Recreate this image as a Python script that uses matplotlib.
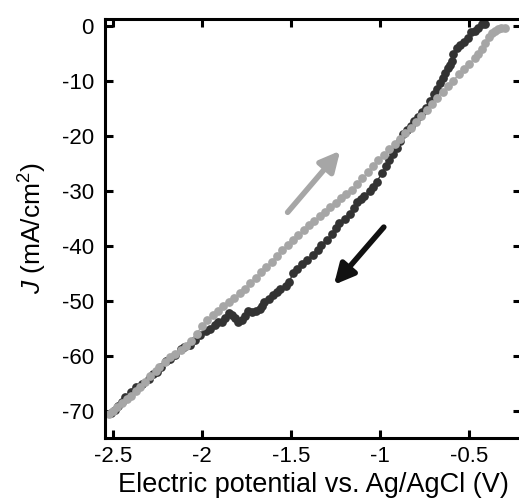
import numpy as np
import matplotlib
matplotlib.use('Agg')
import matplotlib.pyplot as plt

plt.rcParams['font.family'] = ['Liberation Sans', 'DejaVu Sans']
plt.rcParams['mathtext.fontset'] = 'custom'
plt.rcParams['mathtext.rm'] = 'Liberation Sans'
plt.rcParams['mathtext.it'] = 'Liberation Sans:italic'
plt.rcParams['axes.unicode_minus'] = False

# forward scan (grey)
fwd_v = [-2.52, -2.50, -2.48, -2.45, -2.42, -2.40, -2.37, -2.35, -2.32, -2.29,
         -2.26, -2.24, -2.21, -2.18, -2.15, -2.12, -2.09, -2.06, -2.03, -2.00,
         -1.97, -1.94, -1.91, -1.88, -1.85, -1.82, -1.79, -1.76, -1.73, -1.70,
         -1.67, -1.64, -1.61, -1.58, -1.55, -1.52, -1.49, -1.46, -1.43, -1.40,
         -1.37, -1.34, -1.31, -1.28, -1.25, -1.22, -1.19, -1.16, -1.13, -1.10,
         -1.07, -1.04, -1.01, -0.98, -0.95, -0.92, -0.89, -0.86, -0.83, -0.80,
         -0.77, -0.74, -0.71, -0.68, -0.65, -0.62, -0.59, -0.56, -0.53, -0.50,
         -0.47, -0.45, -0.43, -0.41, -0.39, -0.37, -0.355, -0.34, -0.32, -0.30]
fwd_j = [-70.6, -70.0, -69.4, -68.6, -67.9, -67.3, -66.4, -65.8, -64.8, -63.7,
         -62.8, -62.0, -61.2, -60.3, -59.7, -58.9, -58.2, -57.3, -56.0, -54.6,
         -53.6, -52.6, -51.8, -51.0, -50.2, -49.5, -48.6, -47.8, -46.8, -45.8,
         -44.8, -43.9, -42.9, -41.8, -40.8, -39.8, -38.9, -38.0, -37.2, -36.3,
         -35.4, -34.6, -33.8, -33.0, -32.2, -31.3, -30.6, -29.8, -28.8, -27.7,
         -26.6, -25.5, -24.4, -23.4, -22.4, -21.4, -20.5, -19.5, -18.6, -17.4,
         -16.3, -15.2, -14.2, -13.1, -12.0, -10.9, -9.9, -8.8, -7.8, -6.9,
         -5.8, -5.0, -4.2, -3.0, -2.0, -1.3, -0.8, -0.5, -0.4, -0.4]

# reverse scan (dark)
rev_v = [-0.41, -0.43, -0.45, -0.47, -0.49, -0.51, -0.53, -0.55, -0.57, -0.59,
         -0.60, -0.61, -0.62, -0.635, -0.65, -0.665, -0.68, -0.70, -0.72, -0.745,
         -0.765, -0.79, -0.81, -0.83, -0.85, -0.87, -0.89, -0.905, -0.93, -0.95,
         -0.97, -0.99, -1.02, -1.04, -1.06, -1.09, -1.11, -1.13, -1.15, -1.17,
         -1.20, -1.23, -1.25, -1.27, -1.30, -1.33, -1.35, -1.38, -1.41, -1.44,
         -1.47, -1.49, -1.51, -1.53, -1.56, -1.58, -1.60, -1.625, -1.65, -1.665,
         -1.675, -1.70, -1.72, -1.74, -1.76, -1.775, -1.80, -1.815, -1.83, -1.85,
         -1.87, -1.89, -1.91, -1.93, -1.955, -1.98, -2.01, -2.04, -2.07, -2.10,
         -2.12, -2.15, -2.18, -2.20, -2.23, -2.255, -2.275, -2.30, -2.34, -2.37,
         -2.40, -2.43, -2.45, -2.47, -2.49, -2.51]
rev_j = [0.4, 0.3, -0.4, -0.8, -1.1, -2.2, -2.9, -3.4, -4.0, -5.0,
         -6.3, -7.0, -7.7, -8.6, -9.5, -10.3, -11.4, -12.3, -13.6, -14.9,
         -15.6, -16.5, -17.3, -18.1, -18.9, -19.6, -20.9, -22.2, -23.2, -24.3,
         -25.5, -26.8, -28.3, -29.3, -30.0, -30.9, -31.5, -32.1, -33.2, -34.2,
         -35.2, -35.8, -36.8, -37.9, -38.9, -39.9, -40.7, -41.6, -42.6, -43.4,
         -44.3, -44.9, -46.6, -47.3, -47.8, -48.5, -49.0, -49.6, -50.2, -50.9,
         -51.6, -51.9, -52.0, -51.9, -52.8, -53.6, -53.8, -53.2, -52.6, -52.3,
         -53.1, -53.8, -53.9, -54.5, -55.1, -55.6, -56.3, -57.1, -58.0, -58.5,
         -58.8, -59.8, -60.6, -61.0, -62.1, -62.9, -63.4, -64.2, -65.2, -65.8,
         -66.7, -67.6, -68.5, -69.2, -69.9, -70.4]

xticks = [-2.5, -2, -1.5, -1, -0.5]
xticklabels = ['-2.5', '-2', '-1.5', '-1', '-0.5']
yticks = [0, -10, -20, -30, -40, -50, -60, -70]

# scan-direction arrows (tail, tip)
fwd_arrow = [(-1.52, -33.9), (-1.225, -22.7)]
rev_arrow = [(-0.98, -36.6), (-1.26, -47.1)]

grey = '#a6a6a6'
dark = '#333333'

fig = plt.figure(figsize=(5.19, 5.0), dpi=100)
ax = fig.add_axes([105 / 519, 62 / 500, 416 / 519, 419 / 500])

ax.plot(rev_v, rev_j, 'o-', color=dark, ms=6.3, lw=1.0, mec='none')
ax.plot(fwd_v, fwd_j, 'o-', color=grey, ms=6.3, lw=1.0, mec='none')

for (tail, tip), c in [(fwd_arrow, grey), (rev_arrow, '#111111')]:
    ax.annotate('', xy=tip, xytext=tail,
                arrowprops=dict(arrowstyle='-|>,head_width=0.6,head_length=1.2',
                                color=c, lw=4.0, shrinkA=0, shrinkB=0,
                                mutation_scale=10))

ax.set_xlim(-2.545, -0.21)
ax.set_ylim(-75.0, 1.3)
ax.set_xticks(xticks)
ax.set_xticklabels(xticklabels)
ax.set_yticks(yticks)

ax.tick_params(direction='in', length=5.5, width=2.2, labelsize=16,
               top=True, right=True, pad=6)
ax.tick_params(axis='y', pad=8)
for s in ax.spines.values():
    s.set_linewidth(2.2)

ax.set_xlabel('Electric potential vs. Ag/AgCl (V)', fontsize=19.5, labelpad=3)
ax.set_ylabel(r'$\mathit{J}$ (mA/cm$^2$)', fontsize=19, labelpad=9)

fig.savefig('out.png', dpi=100)
